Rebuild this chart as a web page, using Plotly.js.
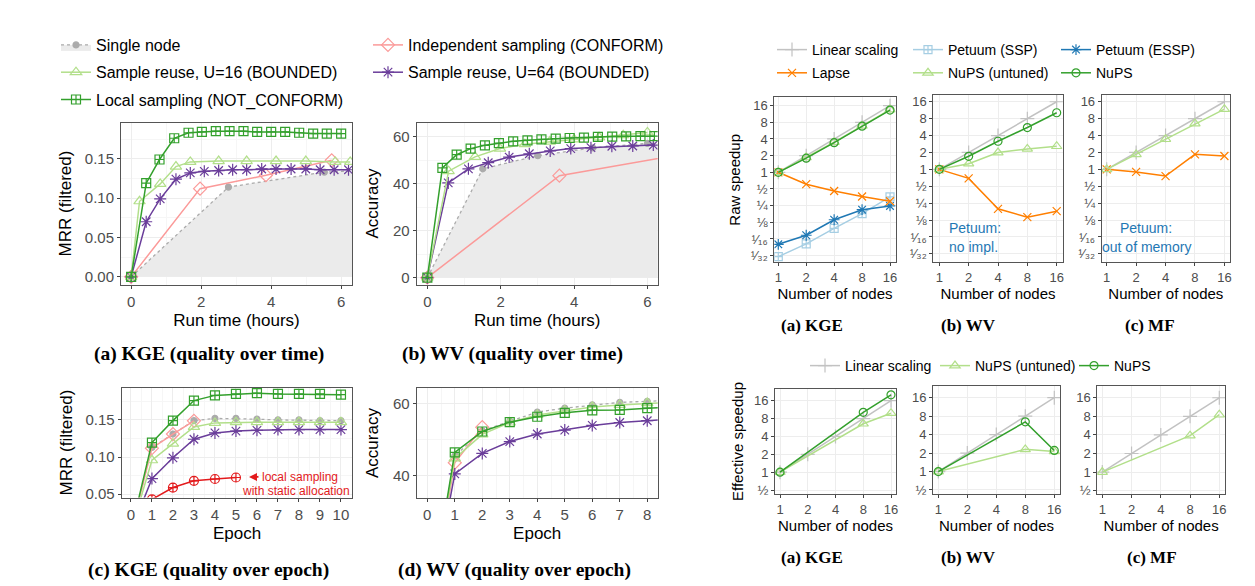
<!DOCTYPE html>
<html><head><meta charset="utf-8">
<script src="https://cdn.plot.ly/plotly-3.0.1.min.js"></script>
<style>html,body{margin:0;padding:0;background:#fff;} #chart{width:1255px;height:586px;}</style>
</head><body><div id="chart"></div>
<script>
// ===================== DATA =====================
// (a) KGE quality over time (hours -> MRR filtered)
const kgeTimeSingleX = [0, 2.78, 5.52, 8.3];
const kgeTimeSingleY = [0, 0.114, 0.133, 0.138];
const kgeTimeIndepX = [0, 1.97, 3.85, 5.73];
const kgeTimeIndepY = [0, 0.112, 0.129, 0.148];
const kgeTimeU64X = [0, 0.43, 0.83, 1.28, 1.69, 2.09, 2.5, 2.9, 3.3, 3.73, 4.14, 4.57, 4.99, 5.4, 5.8, 6.21];
const kgeTimeU64Y = [0, 0.070, 0.099, 0.124, 0.132, 0.134, 0.135, 0.136, 0.136, 0.137, 0.137, 0.137, 0.137, 0.136, 0.136, 0.136];
const kgeTimeU16X = [0, 0.24, 0.83, 1.28, 1.69, 2.5, 3.3, 4.14, 4.99, 5.83, 6.26];
const kgeTimeU16Y = [0, 0.096, 0.118, 0.140, 0.146, 0.147, 0.147, 0.147, 0.147, 0.146, 0.146];
const kgeTimeLocalX = [0, 0.43, 0.81, 1.23, 1.64, 2.02, 2.42, 2.81, 3.21, 3.6, 4.0, 4.4, 4.8, 5.2, 5.59, 6.0];
const kgeTimeLocalY = [0, 0.119, 0.149, 0.176, 0.183, 0.184, 0.185, 0.185, 0.185, 0.184, 0.184, 0.184, 0.183, 0.182, 0.182, 0.182];

// (b) WV quality over time (hours -> accuracy)
const wvTimeSingleX = [0, 1.51, 3.01, 4.51, 6.0, 7.5];
const wvTimeSingleY = [0, 46.3, 51.9, 55.2, 57.1, 57.8];
const wvTimeIndepX = [0, 3.6, 7.2];
const wvTimeIndepY = [0, 43.4, 53.1];
const wvTimeU64X = [0, 0.57, 1.12, 1.66, 2.23, 2.78, 3.35, 3.91, 4.46, 5.03, 5.6, 6.16];
const wvTimeU64Y = [0, 40.3, 46.3, 48.9, 51.3, 52.7, 53.9, 54.9, 55.3, 55.9, 56.0, 56.4];
const wvTimeU16X = [0, 0.58, 1.3, 1.98, 2.66, 3.34, 4.0, 4.68, 5.34, 6.0];
const wvTimeU16Y = [0, 45.3, 51.4, 54.9, 56.8, 57.9, 58.8, 59.7, 60.6, 61.8];
const wvTimeLocalX = [0, 0.41, 0.8, 1.18, 1.57, 1.95, 2.34, 2.73, 3.11, 3.5, 3.88, 4.27, 4.65, 5.04, 5.42, 5.81, 6.19];
const wvTimeLocalY = [0, 46.7, 52.3, 54.9, 56.3, 57.2, 58.0, 58.4, 58.8, 59.1, 59.4, 59.6, 59.9, 60.0, 60.1, 60.2, 60.2];

// (c) KGE quality over epoch
const kgeEpochs = [0, 1, 2, 3, 4, 5, 6, 7, 8, 9, 10];
const kgeEpochSingle = [0, 0.113, 0.131, 0.149, 0.152, 0.152, 0.151, 0.150, 0.150, 0.149, 0.149];
const kgeEpochIndep = [0, 0.112, 0.131, 0.1487];
const kgeEpochU64 = [0, 0.071, 0.099, 0.124, 0.1325, 0.135, 0.136, 0.137, 0.137, 0.137, 0.137];
const kgeEpochU16 = [0, 0.0957, 0.118, 0.1405, 0.146, 0.147, 0.147, 0.147, 0.147, 0.147, 0.147];
const kgeEpochLocal = [0, 0.1195, 0.149, 0.176, 0.183, 0.185, 0.186, 0.185, 0.185, 0.185, 0.184];
const kgeEpochStatic = [0, 0.043, 0.059, 0.068, 0.0705, 0.0725];

// (d) WV quality over epoch
const wvEpochs = [0, 1, 2, 3, 4, 5, 6, 7, 8, 9];
const wvEpochSingle = [0, 45.5, 52.5, 55.2, 57.7, 58.8, 59.7, 60.4, 60.7, 61.0];
const wvEpochIndep = [0, 43.6, 53.5];
const wvEpochU64 = [0, 40.5, 46.2, 49.5, 51.6, 52.7, 54.0, 54.8, 55.3, 55.8];
const wvEpochU16 = [0, 44.8, 51.5, 54.8, 56.9, 58.1, 59.1, 59.7, 60.2, 60.5];
const wvEpochLocal = [0, 46.5, 52.3, 54.9, 56.4, 57.5, 58.2, 58.3, 58.8, 59.1];

// Raw speedup (nodes)
const nodes = [1, 2, 4, 8, 16];
const linearSpeedup = [1, 2, 4, 8, 16];
const rawKgeSSP = [0.030, 0.051, 0.097, 0.179, 0.36];
const rawKgeESSP = [0.05, 0.073, 0.139, 0.211, 0.247];
const rawKgeLapse = [1, 0.61, 0.46, 0.365, 0.30];
const rawKgeUntuned = [1, 1.85, 3.5, 6.9, 13.6];
const rawKgeNups = [1, 1.8, 3.43, 6.8, 13.3];
const rawWvLapse = [1, 0.69, 0.198, 0.141, 0.18];
const rawWvUntuned = [1, 1.26, 1.99, 2.31, 2.58];
const rawWvNups = [1, 1.71, 3.17, 5.56, 10.2];
const rawMfLapse = [1, 0.9, 0.76, 1.85, 1.73];
const rawMfUntuned = [1, 1.85, 3.44, 6.55, 11.8];

// Effective speedup
const effNodes = [1, 8, 16];
const effKgeUntuned = [1, 6.54, 9.85];
const effKgeNups = [1, 10.2, 20.1];
const effWvUntuned = [1, 2.3, 2.13];
const effWvNups = [1, 6.46, 2.21];
const effMfUntuned = [1, 3.9, 8.5];

// Tick labels
const logTickVals = [1/32, 1/16, 1/8, 1/4, 1/2, 1, 2, 4, 8, 16];
const logTickText = ['\u00B9\u2044\u2083\u2082', '\u00B9\u2044\u2081\u2086', '\u215B', '\u00BC', '\u00BD', '1', '2', '4', '8', '16'];
const effTickVals = [1/2, 1, 2, 4, 8, 16];
const effTickText = ['\u00BD', '1', '2', '4', '8', '16'];
const nodeTickText = ['1', '2', '4', '8', '16'];

// ===================== STYLE =====================
const W = 1255, H = 586;
const FONT = 'Liberation Sans, Arial, Helvetica, sans-serif';
const SERIF = 'Liberation Serif, Times New Roman, serif';
const STY = {
  single:  {name: 'Single node', color: '#ABABAB', symbol: 'circle', size: 6, dash: 'dot'},
  indep:   {name: 'Independent sampling (CONFORM)', color: '#FB9A99', symbol: 'diamond-open', size: 10},
  u16:     {name: 'Sample reuse, U=16 (BOUNDED)', color: '#B2DF8A', symbol: 'triangle-up-open', size: 10},
  u64:     {name: 'Sample reuse, U=64 (BOUNDED)', color: '#6A3D9A', symbol: 'asterisk-open', size: 10},
  local:   {name: 'Local sampling (NOT_CONFORM)', color: '#33A02C', symbol: 'square-cross-open', size: 9},
  stat:    {name: 'Local sampling with static allocation', color: '#E31A1C', symbol: 'circle-cross-open', size: 9},
  linear:  {name: 'Linear scaling', color: '#C2C2C2', symbol: 'cross-thin-open', size: 10},
  lapse:   {name: 'Lapse', color: '#FF7F00', symbol: 'x-thin-open', size: 8},
  ssp:     {name: 'Petuum (SSP)', color: '#A6CEE3', symbol: 'square-cross-open', size: 8},
  essp:    {name: 'Petuum (ESSP)', color: '#1F78B4', symbol: 'asterisk-open', size: 9},
  untuned: {name: 'NuPS (untuned)', color: '#B2DF8A', symbol: 'triangle-up-open', size: 9},
  nups:    {name: 'NuPS', color: '#33A02C', symbol: 'circle-open', size: 8}
};

let gid = 0;
function tr(key, x, y, axi, opts) {
  const s = STY[key];
  opts = opts || {};
  const t = {
    type: 'scatter', mode: 'lines+markers', x: x, y: y, name: s.name,
    xaxis: 'x' + (axi === 1 ? '' : axi), yaxis: 'y' + (axi === 1 ? '' : axi),
    line: {color: s.color, width: opts.lw || 1.5, dash: s.dash || 'solid'},
    marker: {symbol: s.symbol, size: opts.ms || s.size, color: s.color, line: {color: s.color, width: 1.2}},
    showlegend: !!opts.legend, hoverinfo: 'x+y+name'
  };
  if (opts.legend) { t.legend = opts.legend; t.legendrank = opts.rank; t.legendgroup = 'g' + (gid++); }
  if (opts.fill) { t.fill = 'tozeroy'; t.fillcolor = '#EBEBEB'; }
  return t;
}

const traces = [
  // (a) KGE time
  tr('single', kgeTimeSingleX, kgeTimeSingleY, 1, {fill: true, legend: 'legend', rank: 1, lw: 1.3}),
  tr('indep', kgeTimeIndepX, kgeTimeIndepY, 1, {legend: 'legend2', rank: 1}),
  tr('u64', kgeTimeU64X, kgeTimeU64Y, 1, {legend: 'legend2', rank: 2}),
  tr('u16', kgeTimeU16X, kgeTimeU16Y, 1, {legend: 'legend', rank: 2}),
  tr('local', kgeTimeLocalX, kgeTimeLocalY, 1, {legend: 'legend', rank: 3}),
  // (b) WV time
  tr('single', wvTimeSingleX, wvTimeSingleY, 2, {fill: true, lw: 1.3}),
  tr('indep', wvTimeIndepX, wvTimeIndepY, 2),
  tr('u64', wvTimeU64X, wvTimeU64Y, 2),
  tr('u16', wvTimeU16X, wvTimeU16Y, 2),
  tr('local', wvTimeLocalX, wvTimeLocalY, 2),
  // (c) KGE epoch
  tr('single', kgeEpochs, kgeEpochSingle, 3, {lw: 1.3}),
  tr('indep', kgeEpochs.slice(0, kgeEpochIndep.length), kgeEpochIndep, 3),
  tr('u64', kgeEpochs, kgeEpochU64, 3),
  tr('u16', kgeEpochs, kgeEpochU16, 3),
  tr('local', kgeEpochs, kgeEpochLocal, 3),
  tr('stat', kgeEpochs.slice(0, kgeEpochStatic.length), kgeEpochStatic, 3),
  // (d) WV epoch
  tr('single', wvEpochs, wvEpochSingle, 4, {lw: 1.3}),
  tr('indep', wvEpochs.slice(0, wvEpochIndep.length), wvEpochIndep, 4),
  tr('u64', wvEpochs, wvEpochU64, 4),
  tr('u16', wvEpochs, wvEpochU16, 4),
  tr('local', wvEpochs, wvEpochLocal, 4),
  // raw KGE
  tr('linear', nodes, linearSpeedup, 5, {legend: 'legend3', rank: 1}),
  tr('ssp', nodes, rawKgeSSP, 5, {legend: 'legend4', rank: 1}),
  tr('essp', nodes, rawKgeESSP, 5, {legend: 'legend5', rank: 1}),
  tr('lapse', nodes, rawKgeLapse, 5, {legend: 'legend3', rank: 2}),
  tr('untuned', nodes, rawKgeUntuned, 5, {legend: 'legend4', rank: 2}),
  tr('nups', nodes, rawKgeNups, 5, {legend: 'legend5', rank: 2}),
  // raw WV
  tr('linear', nodes, linearSpeedup, 6),
  tr('lapse', nodes, rawWvLapse, 6),
  tr('untuned', nodes, rawWvUntuned, 6),
  tr('nups', nodes, rawWvNups, 6),
  // raw MF
  tr('linear', nodes, linearSpeedup, 7),
  tr('lapse', nodes, rawMfLapse, 7),
  tr('untuned', nodes, rawMfUntuned, 7),
  // effective KGE
  tr('linear', nodes, linearSpeedup, 8, {legend: 'legend6', rank: 1}),
  tr('untuned', effNodes, effKgeUntuned, 8, {legend: 'legend7', rank: 1}),
  tr('nups', effNodes, effKgeNups, 8, {legend: 'legend8', rank: 1}),
  // effective WV
  tr('linear', nodes, linearSpeedup, 9),
  tr('untuned', effNodes, effWvUntuned, 9),
  tr('nups', effNodes, effWvNups, 9),
  // effective MF
  tr('linear', nodes, linearSpeedup, 10),
  tr('untuned', effNodes, effMfUntuned, 10)
];

// ===================== LAYOUT =====================
function dx(a, b) { return [a / W, b / W]; }
function dy(t, b) { return [1 - b / H, 1 - t / H]; }
const L2 = Math.log10(2);
function lr(a, b) { return [a * L2, b * L2]; }

function baseAxis(fs) {
  return {
    showline: true, mirror: true, linecolor: '#555555', linewidth: 1,
    ticks: 'outside', ticklen: 3, tickcolor: '#444444', tickwidth: 1,
    tickfont: {family: FONT, size: fs, color: '#4D4D4D'},
    gridcolor: '#EDEDED', gridwidth: 1, zeroline: false, showgrid: true,
    automargin: false, fixedrange: true
  };
}
function linAx(domain, range, dtick, fmt, title, standoff, minor, tick0) {
  const a = baseAxis(15);
  Object.assign(a, {type: 'linear', domain: domain, range: range, dtick: dtick, tick0: tick0 || 0,
    minor: {showgrid: true, gridcolor: '#F6F6F6', dtick: minor, tick0: tick0 || 0}});
  if (fmt) a.tickformat = fmt;
  a.title = title ? {text: title, standoff: standoff, font: {family: FONT, size: 17, color: '#000'}} : {text: ''};
  return a;
}
function logAx(domain, range, vals, texts, title, standoff) {
  const a = baseAxis(13);
  Object.assign(a, {type: 'log', domain: domain, range: range, tickmode: 'array', tickvals: vals, ticktext: texts});
  a.title = title ? {text: title, standoff: standoff, font: {family: FONT, size: 15, color: '#000'}} : {text: ''};
  return a;
}

function legendBox(xpx, ypx, fs, gap) {
  return {x: xpx / W, y: 1 - ypx / H, xanchor: 'left', yanchor: 'top', orientation: 'v',
    bgcolor: 'rgba(0,0,0,0)', borderwidth: 0, font: {family: FONT, size: fs, color: '#000'},
    itemwidth: 30, traceorder: 'grouped', tracegroupgap: gap, itemclick: false, itemdoubleclick: false};
}

const layout = {
  width: W, height: H, autosize: false,
  margin: {l: 0, r: 0, t: 0, b: 0},
  paper_bgcolor: '#fff', plot_bgcolor: '#fff',
  font: {family: FONT, color: '#000'},
  showlegend: true,
  legend: legendBox(56, 28, 16, 3.5),
  legend2: legendBox(368, 28, 16, 3.5),
  legend3: legendBox(772, 34, 14, 2),
  legend4: legendBox(908, 34, 14, 2),
  legend5: legendBox(1056, 34, 14, 2),
  legend6: legendBox(805, 350, 14, 0),
  legend7: legendBox(935, 350, 14, 0),
  legend8: legendBox(1074, 350, 14, 0),

  xaxis:  linAx(dx(121, 352), [-0.29, 6.31], 2, null, 'Run time (hours)', 5, 1),
  yaxis:  linAx(dy(122.5, 284.5), [-0.0097, 0.196], 0.05, '.2f', 'MRR (filtered)', 8, 0.025),
  xaxis2: linAx(dx(416.7, 657.7), [-0.29, 6.28], 2, null, 'Run time (hours)', 5, 1),
  yaxis2: linAx(dy(122.5, 284.5), [-2.9, 66], 20, null, 'Accuracy', 10, 10),
  xaxis3: linAx(dx(121.7, 352.3), [-0.44, 10.54], 1, null, 'Epoch', 5, 0.5),
  yaxis3: linAx(dy(387.5, 497.5), [0.0456, 0.1936], 0.05, '.2f', 'MRR (filtered)', 8, 0.025),
  xaxis4: linAx(dx(416.7, 657.7), [-0.385, 8.38], 1, null, 'Epoch', 5, 0.5),
  yaxis4: linAx(dy(388, 498), [33.8, 64.4], 20, null, 'Accuracy', 10, 10),

  xaxis5: logAx(dx(774.3, 895.7), lr(-0.143, 4.204), nodes, nodeTickText, 'Number of nodes', 4),
  yaxis5: logAx(dy(97.3, 262.3), lr(-5.4, 4.5), logTickVals, logTickText, 'Raw speedup', 6),
  xaxis6: logAx(dx(933.3, 1062.7), lr(-0.205, 4.205), nodes, nodeTickText, 'Number of nodes', 4),
  yaxis6: logAx(dy(95, 262.3), lr(-5.5, 4.4), logTickVals, logTickText, null),
  xaxis7: logAx(dx(1101.7, 1230), lr(-0.17, 4.19), nodes, nodeTickText, 'Number of nodes', 4),
  yaxis7: logAx(dy(95, 262.3), lr(-5.5, 4.4), logTickVals, logTickText, null),

  xaxis8: logAx(dx(775, 896), lr(-0.18, 4.18), nodes, nodeTickText, 'Number of nodes', 4),
  yaxis8: logAx(dy(389, 494), lr(-1.22, 4.655), effTickVals, effTickText, 'Effective speedup', 6),
  xaxis9: logAx(dx(933, 1060), lr(-0.183, 4.197), nodes, nodeTickText, 'Number of nodes', 4),
  yaxis9: logAx(dy(386, 494), lr(-1.217, 4.634), effTickVals, effTickText, null),
  xaxis10: logAx(dx(1097.3, 1225), lr(-0.171, 4.195), nodes, nodeTickText, 'Number of nodes', 4),
  yaxis10: logAx(dy(385.7, 494), lr(-1.18, 4.65), effTickVals, effTickText, null),

  annotations: []
};
// anchors
for (let i = 1; i <= 10; i++) {
  const s = i === 1 ? '' : String(i);
  layout['xaxis' + s].anchor = 'y' + s;
  layout['yaxis' + s].anchor = 'x' + s;
}

function cap(text, xpx, ypx, size) {
  return {xref: 'paper', yref: 'paper', x: xpx / W, y: 1 - ypx / H, xanchor: 'center', yanchor: 'middle',
    text: '<b>' + text + '</b>', showarrow: false, font: {family: SERIF, size: size, color: '#000'}};
}
function note(xref, yref, x, y, anchor, text, size, color) {
  return {xref: xref, yref: yref, x: x, y: y, xanchor: anchor, yanchor: 'middle', showarrow: false,
    text: text, align: anchor === 'left' ? 'left' : 'center', font: {family: FONT, size: size, color: color}};
}
layout.annotations.push(
  cap('(a) KGE (quality over time)', 209, 354, 19.5),
  cap('(b) WV (quality over time)', 512, 354, 19.5),
  cap('(c) KGE (quality over epoch)', 208, 570, 19.5),
  cap('(d) WV (quality over epoch)', 514, 570, 19.5),
  cap('(a) KGE', 812, 325, 17),
  cap('(b) WV', 968, 325, 17),
  cap('(c) MF', 1150, 325, 17),
  cap('(a) KGE', 812, 557, 17),
  cap('(b) WV', 968, 557, 17),
  cap('(c) MF', 1152, 557, 17),
  // static allocation note
  {xref: 'x3', yref: 'y3', x: 5.62, y: 0.0733, ax: 11, ay: 0, text: '', showarrow: true,
   arrowhead: 2, arrowsize: 1, arrowwidth: 1.6, arrowcolor: '#E31A1C'},
  note('paper', 'paper', 260 / W, 1 - 476.7 / H, 'left', 'local sampling', 12, '#E31A1C'),
  note('paper', 'paper', 240 / W, 1 - 490.7 / H, 'left', 'with static allocation', 12, '#E31A1C'),
  // Petuum notes
  note('paper', 'paper', 947 / W, 1 - 228 / H, 'left', 'Petuum:', 14, '#1F78B4'),
  note('paper', 'paper', 947 / W, 1 - 247 / H, 'left', 'no impl.', 14, '#1F78B4'),
  note('paper', 'paper', 1146 / W, 1 - 228 / H, 'center', 'Petuum:', 14, '#1F78B4'),
  note('paper', 'paper', 1146 / W, 1 - 247 / H, 'center', 'out of memory', 14, '#1F78B4')
);

Plotly.newPlot('chart', traces, layout, {staticPlot: true, displayModeBar: false});
</script>
</body></html>
